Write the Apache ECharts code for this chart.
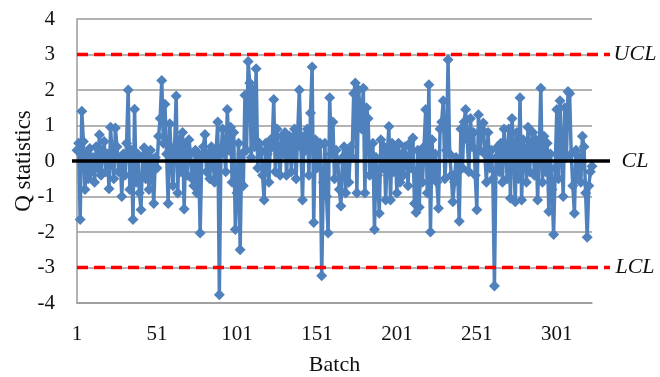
<!DOCTYPE html>
<html>
<head>
<meta charset="utf-8">
<title>Q statistics control chart</title>
<script src="https://cdn.jsdelivr.net/npm/echarts@6/dist/echarts.min.js"></script>
<style>
  html, body { margin: 0; padding: 0; background: #fff; }
  #chart { width: 660px; height: 377px; }
</style>
</head>
<body>
<div id="chart"></div>
<script>
// Q statistic per batch
var qValues = [
  0.3, 0.5, -1.65, 1.4, 0.55, -0.8, 0.2, -0.5, 0.35, -0.3,
  0.1, -0.6, 0.4, -0.2, 0.74, -0.4, 0.3, 0.55, -0.3, 0.2,
  -0.78, 0.95, 0.1, -0.5, 0.93, 0.4, -0.3, 0.1, -1.0, 0.2,
  -0.4, 0.5, 2.0, -0.8, 0.3, -1.65, 1.46, -0.6, 0.2, -0.9,
  -1.37, 0.1, 0.37, -0.5, 0.2, -0.8, 0.3, -0.3, -1.2, 0.1,
  -0.2, 0.7, 1.2, 2.27, 0.5, 1.6, 0.2, -1.2, 1.05, 0.1,
  -0.7, 0.4, 1.83, -0.9, 0.6, -0.3, 0.8, -1.35, 0.5, -0.4,
  0.6, 0.2, -0.5, -0.7, 0.3, -0.9, 0.2, -2.03, 0.1, 0.4,
  0.75, -0.3, 0.2, -0.5, 0.4, 0.1, -0.6, 0.3, 1.1, -3.77,
  0.2, 0.9, 0.4, -0.3, 1.45, 0.3, 0.95, -0.6, 0.8, -1.93,
  -0.9, 0.5, -2.5, 0.2, -0.7, 1.85, 0.3, 2.8, 2.2, 0.1,
  2.0, 0.4, 2.6, -0.2, 0.5, 0.3, -0.4, -1.1, 0.5, 0.2,
  -0.6, 0.6, 0.4, 1.73, -0.3, 0.9, 0.3, -0.4, 0.7, 0.2,
  0.8, -0.4, 0.5, 0.7, -0.3, 0.6, 0.9, -0.5, 0.8, 2.0,
  0.4, -1.1, 0.7, 0.3, 0.9, -0.4, 1.35, 2.65, -1.73, 0.6,
  -0.2, 0.4, 0.5, -3.23, -0.6, 0.5, -1.0, -2.03, 1.78, 0.2,
  1.1, -0.5, 0.3, 0.0, -0.8, -1.27, 0.1, 0.4, -0.9, 0.3,
  -0.6, 0.4, 0.1, 1.9, 2.2, -0.9, 2.0, 1.5, 0.9, 2.05,
  -0.9, 1.5, 1.2, -0.4, 0.2, 0.5, -1.93, 0.1, -0.4, -1.47,
  0.6, -0.2, 0.4, -1.1, 0.2, 0.97, -1.1, 0.5, -0.3, 0.3,
  -0.9, 0.5, -0.6, 0.2, -0.4, 0.4, 0.1, -0.7, 0.5, -0.2,
  0.65, -1.2, -1.45, 0.3, -1.3, 0.2, -0.6, 0.4, 1.45, -0.9,
  2.15, -2.0, 0.6, -0.4, 0.2, -0.6, -1.33, 0.9, 1.1, 1.7,
  -0.5, 0.3, 2.85, 0.2, -0.4, -1.15, -0.6, 0.1, -0.3, -1.7,
  0.9, -0.2, 1.1, 1.45, 0.6, -0.3, 1.2, 0.4, 0.8, -0.4,
  -1.37, 1.3, 0.3, 0.9, 1.07, 0.2, -0.6, 0.8, -0.2, 0.3,
  -0.5, -3.52, 0.1, 0.4, -0.3, 0.5, -0.6, 0.9, 0.3, -0.5,
  0.9, -1.05, 1.2, 0.4, -1.15, 0.8, -0.5, 1.78, -1.1, 0.6,
  0.3, -0.6, 0.95, -0.3, 0.5, 0.8, -0.4, 0.6, -1.1, 0.3,
  2.05, -0.6, 0.7, -0.3, 0.5, -1.42, 0.2, -0.8, -2.07, -0.2,
  1.45, -0.5, 1.7, 0.3, -1.0, 1.5, 0.1, 1.96, 1.9, 0.2,
  -0.7, -1.47, 0.3, -0.4, 0.1, -0.6, 0.7, 0.4, -0.9, -2.15,
  -0.7, -0.3, -0.15
];

// batch numbers 1..N for the category axis
var batches = qValues.map(function (v, i) { return String(i + 1); });

// control limits
var limitNames = ['UCL', 'CL', 'LCL'];
var limitValues = [3, 0, -3];

var yTicks = { min: -4, max: 4, step: 1 };

var serif = '"Liberation Serif", "DejaVu Serif", serif';

var chart = echarts.init(document.getElementById('chart'), null, { renderer: 'canvas' });

var option = {
  animation: false,
  backgroundColor: '#ffffff',
  grid: { left: 77, right: 68, top: 19, bottom: 74, outerBoundsMode: 'none', containLabel: false },
  xAxis: {
    type: 'category',
    data: batches,
    boundaryGap: false,
    name: 'Batch',
    nameLocation: 'middle',
    nameGap: 51,
    nameMoveOverlap: false,
    nameTextStyle: { fontFamily: serif, fontSize: 22, color: '#111' },
    axisLine: { onZero: false, lineStyle: { color: '#9a9a9a', width: 1.5 } },
    axisTick: { show: false },
    axisLabel: {
      interval: 49,
      margin: 21,
      fontFamily: serif,
      fontSize: 21,
      color: '#111'
    },
    splitLine: { show: false }
  },
  yAxis: {
    type: 'value',
    min: yTicks.min,
    max: yTicks.max,
    interval: yTicks.step,
    name: 'Q statistics',
    nameLocation: 'middle',
    nameGap: 42,
    nameMoveOverlap: false,
    nameTextStyle: { fontFamily: serif, fontSize: 23, color: '#111' },
    axisLine: { show: true, lineStyle: { color: '#9a9a9a', width: 1.5 } },
    axisTick: { show: false },
    axisLabel: {
      margin: 22,
      fontFamily: serif,
      fontSize: 21,
      color: '#111'
    },
    splitLine: { lineStyle: { color: '#9a9a9a', width: 1.5 } }
  },
  series: [
    {
      name: 'Q',
      type: 'line',
      data: qValues,
      symbol: 'diamond',
      symbolSize: 11,
      showAllSymbol: true,
      lineStyle: { color: '#4F81BD', width: 3.5 },
      itemStyle: { color: '#4F81BD' },
      z: 2
    }
  ]
};

chart.setOption(option);

// control limit lines reach a little past the plot, with their names on the right
function drawLimits() {
  var xLeft = chart.convertToPixel({ xAxisIndex: 0 }, 0);
  var xLast = chart.convertToPixel({ xAxisIndex: 0 }, batches.length - 1);
  var xEnd = xLast + 18;
  var elements = [];
  limitValues.forEach(function (v, i) {
    var y = chart.convertToPixel({ yAxisIndex: 0 }, v);
    var isCenter = limitNames[i] === 'CL';
    elements.push({
      type: 'line',
      z: 10,
      shape: { x1: isCenter ? xLeft - 5 : xLeft, y1: y, x2: xEnd, y2: y },
      style: isCenter
        ? { stroke: '#000000', lineWidth: 3.5 }
        : { stroke: '#FF0000', lineWidth: 3.5, lineDash: [11, 6] }
    });
    elements.push({
      type: 'text',
      z: 10,
      x: xEnd + 25,
      y: y,
      style: {
        text: limitNames[i],
        font: 'italic 22px ' + serif,
        fill: '#111',
        align: 'center',
        verticalAlign: 'middle'
      }
    });
  });
  chart.setOption({ graphic: elements });
}

drawLimits();
</script>
</body>
</html>
